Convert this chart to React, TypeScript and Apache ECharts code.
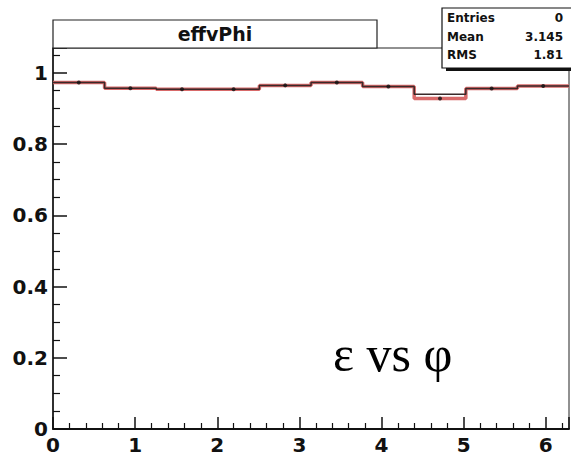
import React, { useEffect, useRef } from "react";
import * as echarts from "echarts";

// phi bin edges (10 bins over 0..2π)
const phiEdges = [0, 0.628, 1.257, 1.885, 2.513, 3.142, 3.77, 4.398, 5.027, 5.655, 6.283];
// efficiency per bin, red histogram (with markers)
const effRed = [0.973, 0.957, 0.954, 0.954, 0.965, 0.973, 0.962, 0.928, 0.956, 0.963];
// efficiency per bin, black histogram
const effBlack = [0.973, 0.957, 0.954, 0.954, 0.965, 0.973, 0.962, 0.94, 0.956, 0.963];
// statistics box
const statNames = ["Entries", "Mean", "RMS"];
const statValues = ["0", "3.145", "1.81"];
const titleText = "effvPhi";
const noteText = "ε vs φ";

function histPoints(vals: number[]) {
  const pts: number[][] = [];
  vals.forEach((v, i) => {
    pts.push([phiEdges[i], v]);
    pts.push([phiEdges[i + 1], v]);
  });
  return pts;
}

export default function App() {
  const ref = useRef<HTMLDivElement>(null);
  useEffect(() => {
    if (!ref.current) return;
    const chart = echarts.init(ref.current, undefined, { renderer: "svg" });
    const axisFont = {
      fontFamily: "DejaVu Sans",
      fontWeight: "bold" as const,
      fontSize: 20,
      color: "#111",
    };
    const statFont = "bold 12px 'DejaVu Sans'";
    const graphics: any[] = [
      // title box
      {
        type: "rect",
        shape: { x: 53, y: 20, width: 324, height: 28 },
        style: { fill: "#fff", stroke: "#222", lineWidth: 1.2 },
        z: 10,
      },
      {
        type: "text",
        x: 215,
        y: 34,
        style: {
          text: titleText,
          font: "bold 19px 'DejaVu Sans'",
          fill: "#111",
          align: "center",
          verticalAlign: "middle",
        },
        z: 11,
      },
      // stat box shadow
      {
        type: "rect",
        shape: { x: 446, y: 11, width: 140, height: 60 },
        style: { fill: "#111" },
        z: 10,
      },
      {
        type: "rect",
        shape: { x: 442, y: 8, width: 140, height: 60 },
        style: { fill: "#fff", stroke: "#111", lineWidth: 1.2 },
        z: 11,
      },
      {
        type: "text",
        x: 333,
        y: 354,
        style: {
          text: noteText,
          font: "50px 'Liberation Serif'",
          fill: "#000",
          align: "left",
          verticalAlign: "middle",
        },
        z: 11,
      },
    ];
    statNames.forEach((n, i) => {
      graphics.push({
        type: "text",
        x: 447,
        y: 18 + i * 18.5,
        style: { text: n, font: statFont, fill: "#111", verticalAlign: "middle", align: "left" },
        z: 12,
      });
      graphics.push({
        type: "text",
        x: 563,
        y: 18 + i * 18.5,
        style: { text: statValues[i], font: statFont, fill: "#111", verticalAlign: "middle", align: "right" },
        z: 12,
      });
    });

    const centers = effRed.map((v, i) => [(phiEdges[i] + phiEdges[i + 1]) / 2, v]);

    chart.setOption({
      animation: false,
      backgroundColor: "#fff",
      grid: {
        left: 53,
        top: 48,
        right: 2,
        bottom: 24,
        show: true,
        borderColor: "#222",
        borderWidth: 1,
        backgroundColor: "transparent",
      },
      xAxis: {
        type: "value",
        min: 0,
        max: 6.283,
        interval: 1,
        axisLine: { show: true, onZero: false, lineStyle: { color: "#111", width: 2 } },
        axisTick: { show: true, inside: true, length: 12, lineStyle: { color: "#111", width: 1.5 } },
        minorTick: { show: true, splitNumber: 5, length: 6, lineStyle: { color: "#111", width: 1.2 } },
        splitLine: { show: false },
        axisLabel: {
          ...axisFont,
          margin: 6,
          showMaxLabel: false,
          formatter: (v: number) => (Math.abs(v - Math.round(v)) < 1e-6 ? String(Math.round(v)) : ""),
        },
      },
      yAxis: {
        type: "value",
        min: 0,
        max: 1.07,
        interval: 0.2,
        axisLine: { show: true, onZero: false, lineStyle: { color: "#111", width: 1.5 } },
        axisTick: { show: true, inside: true, length: 14, lineStyle: { color: "#111", width: 1.5 } },
        minorTick: { show: true, splitNumber: 4, length: 7, lineStyle: { color: "#111", width: 1.2 } },
        splitLine: { show: false },
        axisLabel: {
          ...axisFont,
          margin: 5,
          showMaxLabel: false,
          formatter: (v: number) => {
            const r = Math.round(v * 10) / 10;
            return r > 1.0001 ? "" : String(r);
          },
        },
      },
      series: [
        {
          type: "line",
          data: histPoints(effRed),
          symbol: "none",
          lineStyle: { color: "#d86a6a", width: 3.5 },
          z: 2,
        },
        {
          type: "line",
          data: histPoints(effBlack),
          symbol: "none",
          lineStyle: { color: "#3a2a2a", width: 1.5 },
          z: 3,
        },
        {
          type: "scatter",
          data: centers,
          symbol: "circle",
          symbolSize: 4,
          itemStyle: { color: "#111" },
          z: 4,
        },
      ],
      graphic: graphics,
    });
    return () => chart.dispose();
  }, []);
  return <div ref={ref} style={{ width: 571, height: 455, position: "absolute", left: 0, top: 0 }} />;
}
